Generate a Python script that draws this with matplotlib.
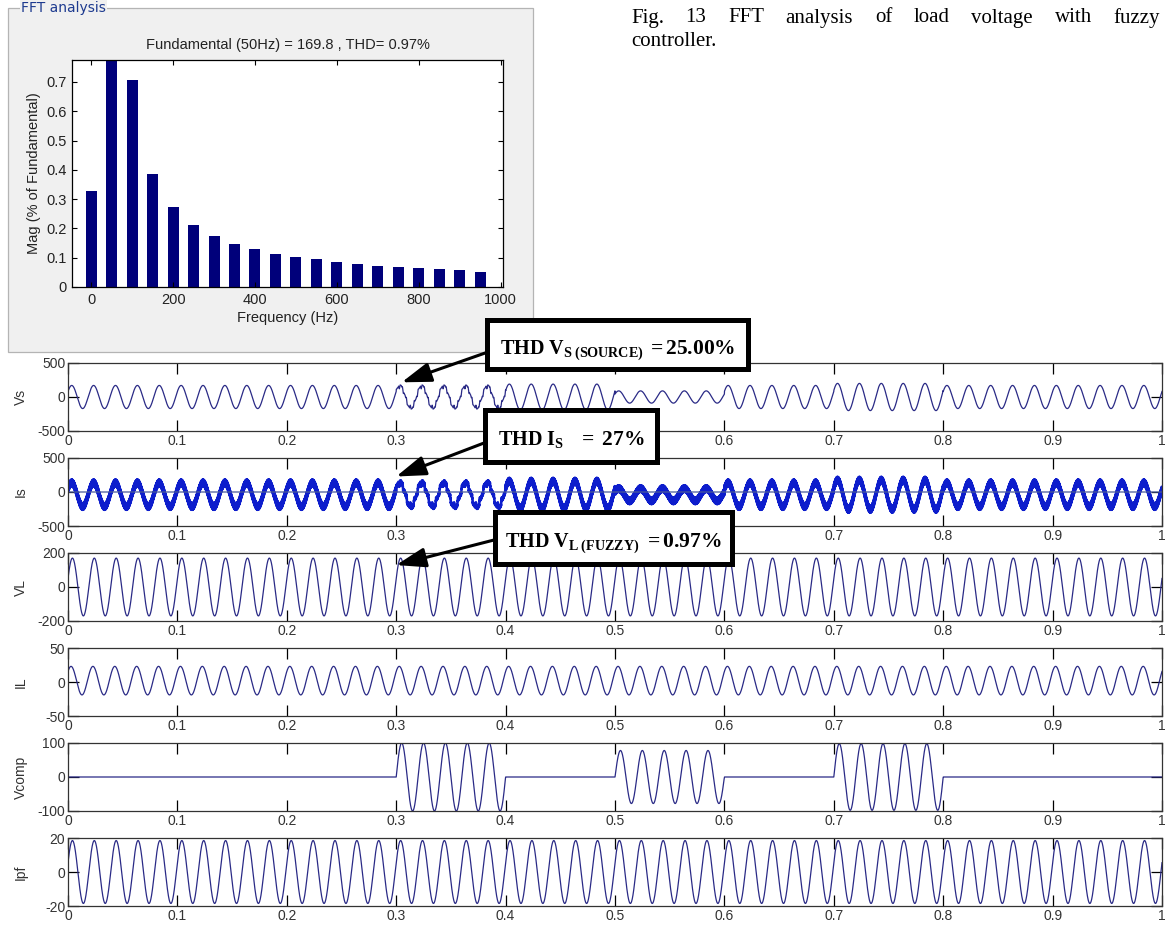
import numpy as np
import matplotlib
matplotlib.use('Agg')
import matplotlib.pyplot as plt
from matplotlib.patches import Rectangle

W, H = 1165, 925

# ---------------- FFT data ----------------
fft_freq = [0, 50, 100, 150, 200, 250, 300, 350, 400, 450,
            500, 550, 600, 650, 700, 750, 800, 850, 900, 950]
fft_mag = [0.329, 100.0, 0.708, 0.386, 0.272, 0.211, 0.174, 0.146, 0.129, 0.112,
           0.101, 0.094, 0.086, 0.079, 0.072, 0.068, 0.064, 0.060, 0.057, 0.052]
fft_yticks = [0, 0.1, 0.2, 0.3, 0.4, 0.5, 0.6, 0.7]
fft_xticks = [0, 200, 400, 600, 800, 1000]

# ---------------- time-domain data (per 0.1 s segment) ----------------
seg_start = [0.0, 0.1, 0.2, 0.3, 0.4, 0.5, 0.6, 0.7, 0.8, 0.9]
vs_amp = [170, 170, 170, 165, 190, 90, 170, 200, 170, 170]
vs_h5 = [0, 0, 0, 20, 0, 0, 0, 0, 0, 0]
vs_h11 = [0, 0, 0, 14, 0, 0, 0, 0, 0, 0]
vs_h17 = [0, 0, 0, 9, 0, 0, 0, 0, 0, 0]
is_amp = [175, 175, 175, 180, 200, 90, 175, 215, 175, 175]
is_h5 = [0, 0, 0, 24, 0, 0, 0, 0, 0, 0]
is_h11 = [0, 0, 0, 16, 0, 0, 0, 0, 0, 0]
is_h17 = [0, 0, 0, 10, 0, 0, 0, 0, 0, 0]
is_ripple = [48, 48, 48, 18, 48, 48, 48, 48, 48, 48]
is_offset = -40
vl_amp = [170, 170, 170, 170, 170, 170, 170, 170, 170, 170]
il_amp = [21, 21, 21, 21, 21, 21, 21, 21, 21, 21]
il_offset = 2
vcomp_amp = [0, 0, 0, 100, 0, 78, 0, 98, 0, 0]
ipf_amp = [18.5, 18.5, 18.5, 18.5, 18.5, 18.5, 18.5, 18.5, 18.5, 18.5]
f0 = 50
phases = {'Vs': 0.5, 'Is': 0.5, 'VL': 0.3, 'IL': 0.7, 'Vcomp': 0.0, 'Ipf': 0.3}

x_ticks = [0, 0.1, 0.2, 0.3, 0.4, 0.5, 0.6, 0.7, 0.8, 0.9, 1.0]
x_ticklabels = ['0', '0.1', '0.2', '0.3', '0.4', '0.5', '0.6', '0.7', '0.8', '0.9', '1']
panel_names = ['Vs', 'Is', 'VL', 'IL', 'Vcomp', 'Ipf']
panel_ylim = [500, 500, 200, 50, 100, 20]
# x tick labels hidden behind the annotation boxes in the original
hidden_labels = {0: ['0.4', '0.5'], 1: ['0.4', '0.5', '0.6']}

# ---------------- build signals ----------------
t = np.linspace(0, 1, 40001)
seg = np.clip(np.searchsorted(seg_start, t, side='right') - 1, 0, 9)
w = 2 * np.pi * f0
A = lambda arr: np.asarray(arr, float)[seg]

vs = (A(vs_amp) * np.sin(w * t + phases['Vs']) + A(vs_h5) * np.sin(5 * w * t + 0.4)
      + A(vs_h11) * np.sin(11 * w * t + 0.9) + A(vs_h17) * np.sin(17 * w * t + 2.0))
is_ = (A(is_amp) * np.sin(w * t + phases['Is']) + A(is_h5) * np.sin(5 * w * t + 0.4)
       + A(is_h11) * np.sin(11 * w * t + 0.9) + A(is_h17) * np.sin(17 * w * t + 2.0)
       + A(is_ripple) * np.sin(2 * np.pi * 2500 * t) + is_offset)
is_ref = np.zeros_like(t)
vl = A(vl_amp) * np.sin(w * t + phases['VL'])
il = A(il_amp) * np.sin(w * t + phases['IL']) + il_offset
vcomp = A(vcomp_amp) * np.sin(w * t)
ipf = A(ipf_amp) * np.sin(w * t + phases['Ipf'])
signals = [vs, is_, vl, il, vcomp, ipf]

# ---------------- figure ----------------
plt.rcParams['font.family'] = ['Liberation Sans', 'DejaVu Sans']
plt.rcParams['mathtext.fontset'] = 'custom'
plt.rcParams['mathtext.rm'] = 'Liberation Serif'
plt.rcParams['mathtext.bf'] = 'Liberation Serif:bold'
plt.rcParams['mathtext.it'] = 'Liberation Serif:italic'

fig = plt.figure(figsize=(W / 100, H / 100), dpi=100)
fig.patch.set_facecolor('white')


def rect(x0, y0, x1, y1):
    return [x0 / W, 1 - y1 / H, (x1 - x0) / W, (y1 - y0) / H]


# background layer (panel)
bg = fig.add_axes([0, 0, 1, 1], zorder=-5)
bg.set_xlim(0, W)
bg.set_ylim(H, 0)
bg.axis('off')
bg.add_patch(Rectangle((8, 7.5), 525, 344, facecolor='#f0f0f0', edgecolor='#b4b4b4', lw=0.9))
bg.text(21, 8, 'FFT analysis', fontsize=10, color='#1d3a8f', va='center', ha='left',
        family='DejaVu Sans', bbox=dict(facecolor='#f0f0f0', edgecolor='none', pad=1))

# FFT axes
axf = fig.add_axes(rect(72, 60, 503, 287))
axf.bar(fft_freq, fft_mag, width=27, color='#00007a', edgecolor='none')
axf.set_xlim(-47, 1006)
axf.set_ylim(0, 0.775)
axf.set_yticks(fft_yticks)
axf.set_yticklabels(['0' if v == 0 else f'{v:.1f}' for v in fft_yticks])
axf.set_xticks(fft_xticks)
axf.tick_params(direction='in', length=3.5, width=0.8, top=True, right=True,
                labelsize=10.5, labelcolor='#222222', pad=4)
axf.set_title('Fundamental (50Hz) = 169.8 , THD= 0.97%', fontsize=10.5, color='#222222', pad=8)
axf.set_xlabel('Frequency (Hz)', fontsize=10.5, color='#222222', labelpad=3)
axf.set_ylabel('Mag (% of Fundamental)', fontsize=10.5, color='#222222', labelpad=4)
for s in axf.spines.values():
    s.set_linewidth(0.9)

# waveform axes
axes = []
for i, (name, lim, sig) in enumerate(zip(panel_names, panel_ylim, signals)):
    top = 363 + 95 * i
    ax = fig.add_axes(rect(68, top, 1162, top + 68))
    if name == 'Is':
        ax.plot(t, sig, color='#0d1dcc', lw=1.8)
        ax.plot(t, is_ref, color='#4a5a9a', lw=0.9)
    else:
        ax.plot(t, sig, color='#2a2a86', lw=0.9)
    ax.set_xlim(0, 1)
    ax.set_ylim(-lim, lim)
    ax.set_yticks([-lim, 0, lim])
    ax.set_yticklabels([str(-lim), '0', str(lim)])
    ax.set_xticks(x_ticks)
    ax.set_xticklabels(x_ticklabels)
    ax.tick_params(direction='in', length=7.9, width=0.9, top=True, right=True,
                   labelsize=10, labelcolor='#333333', pad=2)
    for lab in ax.get_xticklabels():
        if lab.get_text() in hidden_labels.get(i, []):
            lab.set_visible(False)
    ax.set_ylabel(name, fontsize=10, color='#333333')
    ax.yaxis.set_label_coords(-0.037, 0.5)
    for s in ax.spines.values():
        s.set_linewidth(0.9)
        s.set_color('#333333')
    axes.append(ax)

# overlay layer: annotation boxes, arrows, caption
ov = fig.add_axes([0, 0, 1, 1], zorder=10)
ov.set_xlim(0, W)
ov.set_ylim(H, 0)
ov.axis('off')
ov.patch.set_alpha(0)

boxes = [
    ((487, 320, 748, 369), r'$\mathbf{THD\ V_{S\ (SOURCE)}}$', r'$\mathbf{=25.00\%}$', (0.305, 216), axes[0], (488, 352)),
    ((485, 410, 657, 462), r'$\mathbf{THD\ I_{S}}$', r'$\mathbf{=\ 27\%}$', (0.300, 228), axes[1], (484, 443)),
    ((495, 512, 732, 564), r'$\mathbf{THD\ V_{L\ (FUZZY)}}$', r'$\mathbf{=0.97\%}$', (0.300, 129), axes[2], (494, 540)),
]
gaps = [4, 14, 4]
renderer = fig.canvas.get_renderer()
for ((x0, y0, x1, y1), t1, t2, tip, axx, tail), gap in zip(boxes, gaps):
    ov.annotate('', xy=tip, xycoords=axx.transData, xytext=tail, textcoords=ov.transData,
                arrowprops=dict(arrowstyle='-|>,head_length=0.9,head_width=0.3', lw=2.2, color='black',
                                mutation_scale=20, shrinkA=0, shrinkB=0))
    ov.add_patch(Rectangle((x0, y0), x1 - x0, y1 - y0, facecolor='white', edgecolor='black', lw=3.6))
    a = ov.text(0, (y0 + y1) / 2 + 1, t1, fontsize=14.5, ha='left', va='center_baseline', color='black')
    b = ov.text(0, (y0 + y1) / 2 + 1, t2, fontsize=15.5, ha='left', va='center_baseline', color='black')
    wa = a.get_window_extent(renderer).width
    wb = b.get_window_extent(renderer).width
    start = (x0 + x1) / 2 - (wa + gap + wb) / 2
    a.set_x(start)
    b.set_x(start + wa + gap)

# justified caption
cap_words = ['Fig.', '13', 'FFT', 'analysis', 'of', 'load', 'voltage', 'with', 'fuzzy']
cap_left, cap_right = 631, 1160
objs = [ov.text(0, 18, wd, fontsize=15, family='Liberation Serif', ha='left', va='center', color='black')
        for wd in cap_words]
widths = [o.get_window_extent(renderer).width for o in objs]
space = (cap_right - cap_left - sum(widths)) / (len(objs) - 1)
xx = cap_left
for o, wd in zip(objs, widths):
    o.set_x(xx)
    xx += wd + space
ov.text(cap_left, 41, 'controller.', fontsize=15, family='Liberation Serif', ha='left', va='center', color='black')

fig.savefig('out.png', dpi=100, facecolor='white')
